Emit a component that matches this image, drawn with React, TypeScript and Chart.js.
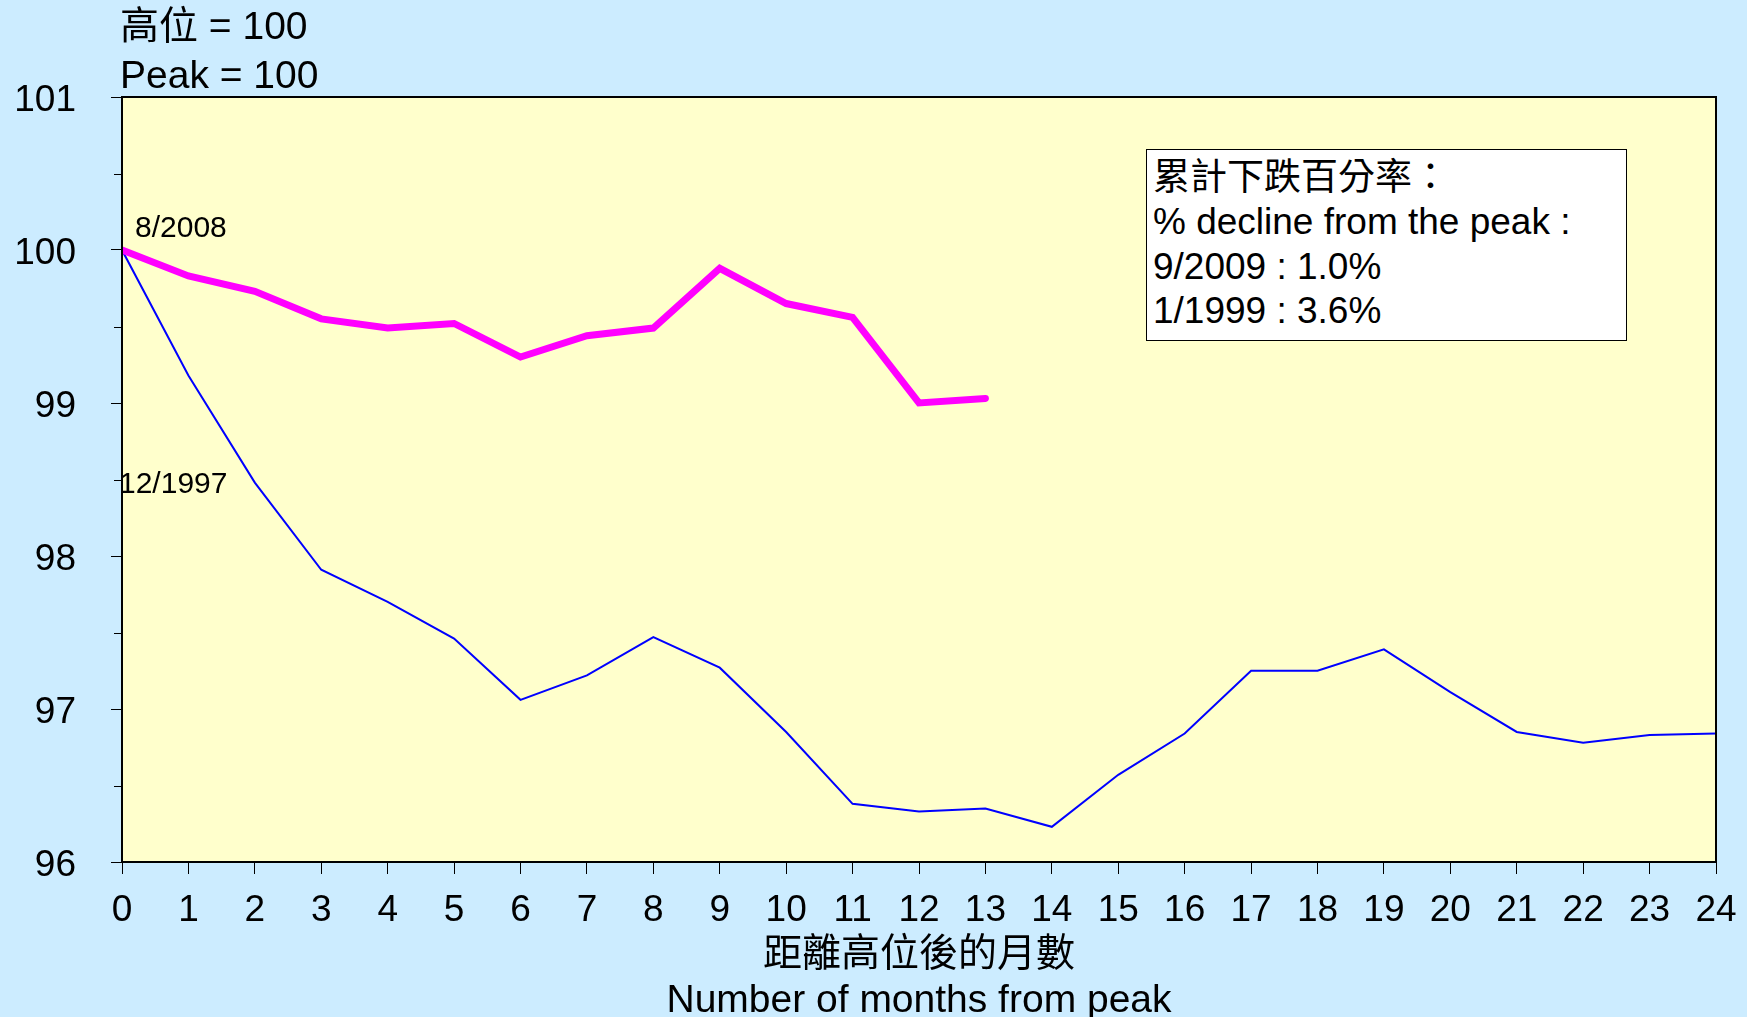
import React, { useEffect, useRef } from "react";
import { Chart, registerables } from "chart.js";

Chart.register(...registerables);

// ---- data ----
const months = [0, 1, 2, 3, 4, 5, 6, 7, 8, 9, 10, 11, 12, 13, 14, 15, 16, 17, 18, 19, 20, 21, 22, 23, 24];
const series2008 = [100, 99.83, 99.73, 99.55, 99.49, 99.52, 99.3, 99.44, 99.49, 99.88, 99.65, 99.56, 99.0, 99.03];
const series1997 = [100, 99.18, 98.48, 97.91, 97.7, 97.46, 97.06, 97.22, 97.47, 97.27, 96.85, 96.38, 96.33, 96.35, 96.23, 96.57, 96.84, 97.25, 97.25, 97.39, 97.11, 96.85, 96.78, 96.83, 96.84];
const seriesNames = ["8/2008", "12/1997"];
const yMinorTicks = [96.5, 97.5, 98.5, 99.5, 100.5];
const headerLines = ["高位 = 100", "Peak = 100"];
const legendLines = ["累計下跌百分率：", "% decline from the peak :", "9/2009 : 1.0%", "1/1999 : 3.6%"];
const xTitleLines = ["距離高位後的月數", "Number of months from peak"];

const FONT = "'Liberation Sans', Arial, 'Noto Sans CJK TC', sans-serif";

const framePlugin = {
  id: "frame",
  beforeDraw(chart: any) {
    const { ctx, chartArea: a } = chart;
    ctx.save();
    ctx.fillStyle = "#FFFFCC";
    ctx.fillRect(a.left, a.top, a.right - a.left, a.bottom - a.top);
    ctx.restore();
  },
  afterDraw(chart: any) {
    const { ctx, chartArea: a, scales } = chart;
    ctx.save();
    ctx.strokeStyle = "#000";
    ctx.lineWidth = 2;
    ctx.strokeRect(a.left, a.top, a.right - a.left, a.bottom - a.top);
    ctx.lineWidth = 1;
    yMinorTicks.forEach((v) => {
      const py = Math.round(scales.y.getPixelForValue(v)) + 0.5;
      ctx.beginPath();
      ctx.moveTo(a.left - 8, py);
      ctx.lineTo(a.left, py);
      ctx.stroke();
    });
    ctx.restore();
  },
};

export default function App() {
  const ref = useRef<HTMLCanvasElement | null>(null);

  useEffect(() => {
    if (!ref.current) return;
    const chart = new Chart(ref.current, {
      type: "line",
      data: {
        datasets: [
          {
            label: seriesNames[0],
            data: series2008.map((v, i) => ({ x: months[i], y: v })),
            borderColor: "#FF00FF",
            borderWidth: 7,
            pointRadius: 0,
            borderCapStyle: "round",
            fill: false,
          },
          {
            label: seriesNames[1],
            data: series1997.map((v, i) => ({ x: months[i], y: v })),
            borderColor: "#0000FF",
            borderWidth: 2,
            pointRadius: 0,
            fill: false,
          },
        ],
      },
      options: {
        animation: false,
        responsive: false,
        layout: { padding: { left: 0, right: 31, top: 97, bottom: 0 } },
        plugins: { legend: { display: false }, tooltip: { enabled: false }, title: { display: false } },
        scales: {
          x: {
            type: "linear",
            min: 0,
            max: 24,
            afterFit: (s: any) => {
              s.height = 155;
              s.paddingLeft = 0;
              s.paddingRight = 0;
            },
            ticks: {
              stepSize: 1,
              autoSkip: false,
              maxRotation: 0,
              color: "#000",
              padding: 15,
              font: { family: FONT, size: 37 },
            },
            grid: { display: true, drawOnChartArea: false, drawTicks: true, tickLength: 12, color: "#000" },
            border: { display: true, color: "#000", width: 2 },
            title: {
              display: true,
              text: xTitleLines,
              color: "#000",
              font: { family: FONT, size: 39, lineHeight: 1.2 },
              padding: { top: 0, bottom: -8 },
            },
          },
          y: {
            type: "linear",
            min: 96,
            max: 101,
            afterFit: (s: any) => {
              s.width = 122;
            },
            ticks: {
              stepSize: 1,
              color: "#000",
              padding: 35,
              labelOffset: 4,
              font: { family: FONT, size: 37 },
            },
            grid: { display: true, drawOnChartArea: false, drawTicks: true, tickLength: 11, color: "#000" },
            border: { display: true, color: "#000", width: 2 },
          },
        },
      },
      plugins: [framePlugin],
    });
    return () => chart.destroy();
  }, []);

  const textBase: React.CSSProperties = {
    position: "absolute",
    fontFamily: FONT,
    color: "#000",
    whiteSpace: "nowrap",
    lineHeight: 1,
  };

  return (
    <div
      style={{
        position: "fixed",
        left: 0,
        top: 0,
        width: 1747,
        height: 1017,
        background: "#CCECFF",
        overflow: "hidden",
      }}
    >
      <canvas ref={ref} width={1747} height={1017} style={{ position: "absolute", left: 0, top: 0 }} />
      <div style={{ ...textBase, left: 120, top: 24.5 - 19, fontSize: 39 }}>{headerLines[0]}</div>
      <div style={{ ...textBase, left: 120, top: 73.5 - 19, fontSize: 39 }}>{headerLines[1]}</div>
      <div style={{ ...textBase, left: 135, top: 227 - 15, fontSize: 30 }}>{seriesNames[0]}</div>
      <div style={{ ...textBase, left: 119, top: 482.5 - 15, fontSize: 30 }}>{seriesNames[1]}</div>
      <div
        style={{
          position: "absolute",
          left: 1146,
          top: 149,
          width: 481,
          height: 192,
          boxSizing: "border-box",
          background: "#FFFFFF",
          border: "1.5px solid #000",
        }}
      />
      {legendLines.map((t, i) => (
        <div key={i} style={{ ...textBase, left: 1153, top: 177 + i * 44.4 - 18, fontSize: 37 }}>
          {t}
        </div>
      ))}
    </div>
  );
}
